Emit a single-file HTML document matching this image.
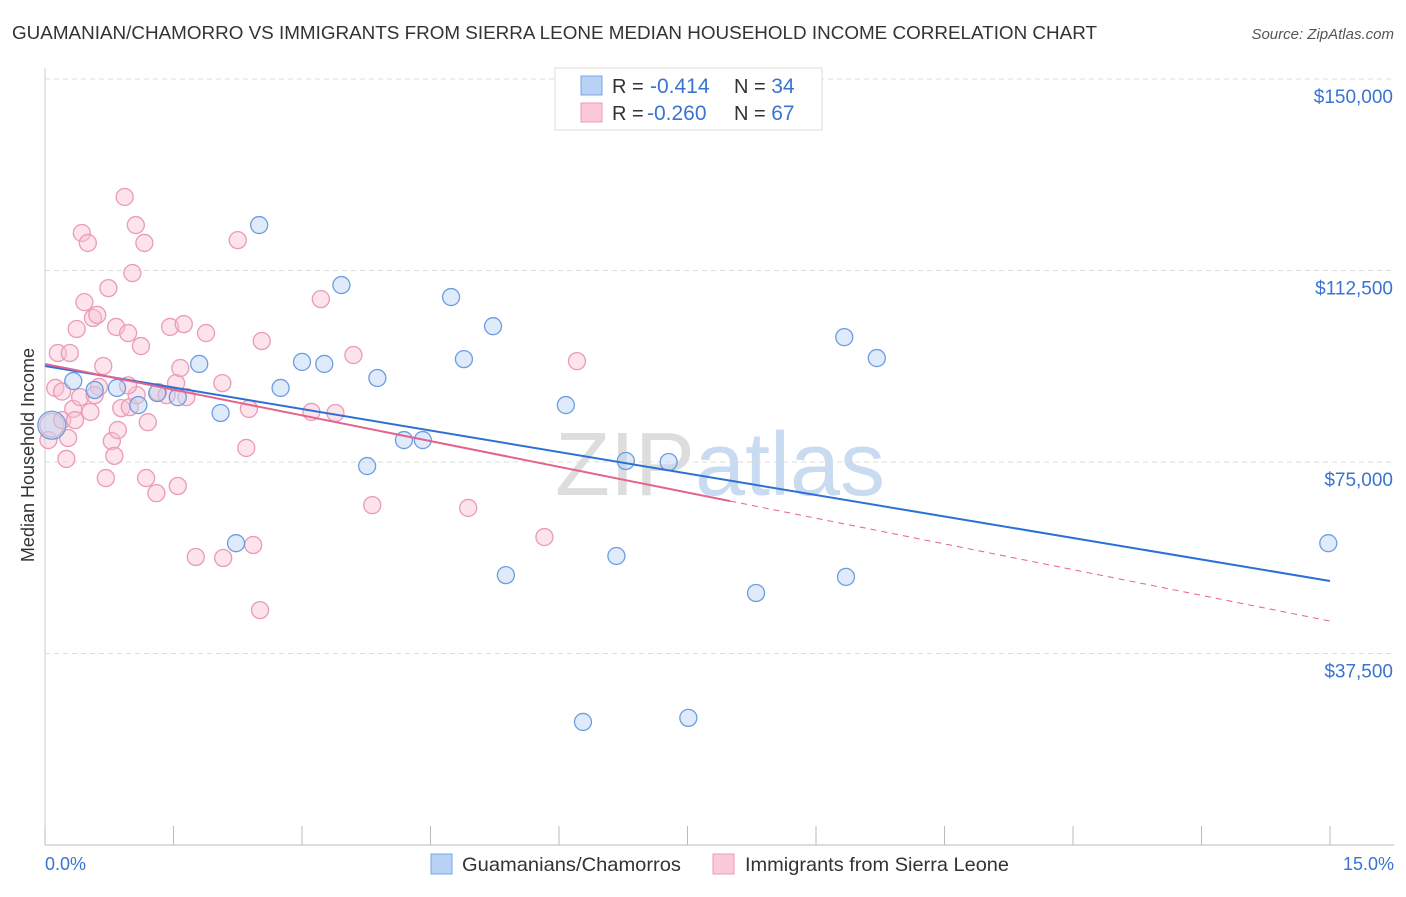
<!DOCTYPE html>
<html><head><meta charset="utf-8"><style>
body{margin:0;background:#fff;font-family:"Liberation Sans",sans-serif}
svg text{font-family:"Liberation Sans",sans-serif}
</style></head><body>
<svg id="c" width="1406" height="892" xmlns="http://www.w3.org/2000/svg">
<text x="12" y="39" font-size="18" fill="#333" textLength="1085" lengthAdjust="spacingAndGlyphs">GUAMANIAN/CHAMORRO VS IMMIGRANTS FROM SIERRA LEONE MEDIAN HOUSEHOLD INCOME CORRELATION CHART</text>
<text x="1394" y="39" font-size="15" fill="#555" font-style="italic" text-anchor="end">Source: ZipAtlas.com</text>
<text x="720" y="495" font-size="90" fill="#ddd" text-anchor="middle" font-family="Liberation Serif">ZIP<tspan fill="#c9dbf0" font-family="Liberation Sans">atlas</tspan></text>
<g id="grid"></g><g id="marks"></g>
<text transform="translate(34,455) rotate(-90)" font-size="18" fill="#333" text-anchor="middle">Median Household Income</text>
<text x="45" y="870" font-size="18" fill="#3a73d0">0.0%</text>
<text x="1394" y="870" font-size="18" fill="#3a73d0" text-anchor="end">15.0%</text>
<g>
<rect x="555" y="68" width="267" height="62" fill="#fff" stroke="#ddd"/>
<rect x="581" y="76" width="21" height="19" fill="#b8d2f5" stroke="#7aa6e6"/>
<rect x="581" y="103" width="21" height="19" fill="#fbc9da" stroke="#eb9ab8"/>
<text x="612" y="93" font-size="20" fill="#333">R = <tspan fill="#3a73d0" x="650" font-size="21">-0.414</tspan><tspan x="734" fill="#333">N = </tspan><tspan fill="#3a73d0" font-size="21">34</tspan></text>
<text x="612" y="120" font-size="20" fill="#333">R = <tspan fill="#3a73d0" x="647" font-size="21">-0.260</tspan><tspan x="734" fill="#333">N = </tspan><tspan fill="#3a73d0" font-size="21">67</tspan></text>
</g>
<g>
<rect x="431" y="854" width="21" height="20" fill="#b8d2f5" stroke="#7aa6e6"/>
<text x="462" y="871" font-size="19.5" fill="#333" textLength="219" lengthAdjust="spacingAndGlyphs">Guamanians/Chamorros</text>
<rect x="713" y="854" width="21" height="20" fill="#fbc9da" stroke="#eb9ab8"/>
<text x="745" y="871" font-size="19.5" fill="#333" textLength="264" lengthAdjust="spacingAndGlyphs">Immigrants from Sierra Leone</text>
</g>
</svg>
<script>
const yTicks=[37500,75000,112500,150000];
const yTickLabels=["$37,500","$75,000","$112,500","$150,000"];
const blueX=[0.08,0.33,0.58,0.84,1.09,1.31,1.55,1.80,2.05,2.23,2.50,2.75,3.00,3.26,3.46,3.76,3.88,4.19,4.41,4.74,4.89,5.23,5.38,6.08,6.28,6.67,6.78,7.28,7.51,8.30,9.33,9.35,9.71,14.98];
const blueY=[82200,90850,89100,89500,86150,88500,87700,94200,84600,59100,121400,89500,94600,94200,109650,74200,91450,79300,79300,107300,95150,101600,52850,86150,24100,56600,75200,75000,24900,49350,99450,52500,95350,59100];
const pinkX=[0.04,0.08,0.12,0.15,0.20,0.25,0.27,0.29,0.33,0.37,0.41,0.43,0.46,0.50,0.53,0.56,0.61,0.63,0.68,0.71,0.74,0.78,0.81,0.83,0.85,0.89,0.93,0.97,0.99,1.02,1.06,1.07,1.12,1.16,1.18,1.20,1.30,1.32,1.42,1.46,1.53,1.55,1.58,1.62,1.65,1.76,1.88,2.07,2.08,2.25,2.35,2.38,2.43,2.51,2.53,3.11,3.22,3.39,3.60,3.82,4.94,5.83,6.21,0.20,0.35,0.58,0.97];
const pinkY=[79300,82200,89500,96350,83200,75600,79700,96350,85400,101050,87700,119850,106300,117900,84800,103200,103800,89700,93800,71850,109050,79100,76200,101450,81250,85550,126900,100250,85750,112000,121400,88100,97700,117900,71850,82800,68900,88700,88100,101450,90450,70300,93400,102000,87700,56400,100250,90450,56200,118450,77750,85400,58750,46000,98700,84800,106900,84600,95950,66550,66000,60300,94750,88800,83200,88100,90000];
const blueTrend=[93800,51700];
const pinkTrend=[94200,43850];
const pinkSolidEnd=8.0;
const X=v=>45+v/15*1285, Y=v=>845-v/150000*766;
const ns="http://www.w3.org/2000/svg";
const g=document.getElementById('grid'), m=document.getElementById('marks');
function mk(p,t,a){const e=document.createElementNS(ns,t);for(const k in a)e.setAttribute(k,a[k]);p.appendChild(e);return e;}
yTicks.forEach((t,i)=>{
 const l=mk(g,'line',{x1:45,x2:1394,y1:Y(t),y2:Y(t),stroke:'#ddd','stroke-dasharray':'5,4'});
 
 
 const tx=mk(g,'text',{x:1393,y:Y(t)+24,'font-size':19,fill:'#3a73d0','text-anchor':'end'});
 tx.textContent=yTickLabels[i];
 
 
});
const ax=mk(g,'line',{x1:45,x2:1394,y1:845,y2:845,stroke:'#bbb'});


mk(g,'line',{x1:45,x2:45,y1:68,y2:845,stroke:'#ccc'});
for(let i=0;i<=10;i++){const t=mk(g,'line',{x1:X(i*1.5),x2:X(i*1.5),y1:826,y2:845,stroke:'#bbb'});
 
 }
function pts(xs,ys,fill,stroke,name){xs.forEach((x,i)=>{
 const c=mk(m,'circle',{cx:X(x),cy:Y(ys[i]),r:(i==0&&xs===blueX)?14:(i==1&&xs===pinkX?12:8.5),fill:fill,stroke:stroke,'fill-opacity':0.45,'stroke-width':1.3});
 
 });}
pts(pinkX,pinkY,'#f9c2d4','#eb9ab8','pink-point');
pts(blueX,blueY,'#b8d2f5','#6d9de0','blue-point');
const bl=mk(m,'line',{x1:X(0),y1:Y(blueTrend[0]),x2:X(15),y2:Y(blueTrend[1]),stroke:'#2c6fd6','stroke-width':2});


const pv=x=>pinkTrend[0]+(pinkTrend[1]-pinkTrend[0])*x/15;
const pl=mk(m,'line',{x1:X(0),y1:Y(pv(0)),x2:X(pinkSolidEnd),y2:Y(pv(pinkSolidEnd)),stroke:'#e2648e','stroke-width':2});


const pd=mk(m,'line',{x1:X(pinkSolidEnd),y1:Y(pv(pinkSolidEnd)),x2:X(15),y2:Y(pv(15)),stroke:'#e2648e','stroke-width':1,'stroke-dasharray':'6,5'});


</script>
</body></html>
